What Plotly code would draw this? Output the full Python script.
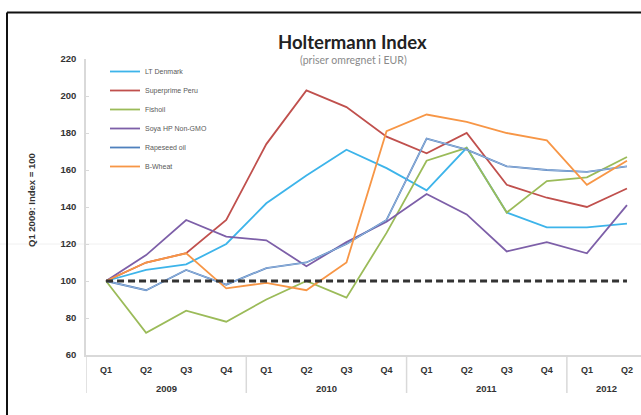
import plotly.graph_objects as go

quarters = ["Q1", "Q2", "Q3", "Q4", "Q1", "Q2", "Q3", "Q4", "Q1", "Q2", "Q3", "Q4", "Q1", "Q2"]
years = ["2009", "2010", "2011", "2012"]
year_sizes = [4, 4, 4, 2]

lt_denmark = [100, 106, 109, 120, 142, 157, 171, 161, 149, 172, 137, 129, 129, 131]
superprime_peru = [100, 110, 115, 133, 174, 203, 194, 178, 169, 180, 152, 145, 140, 150]
fishoil = [100, 72, 84, 78, 90, 100, 91, 126, 165, 172, 137, 154, 156, 167]
soya = [100, 114, 133, 124, 122, 108, 121, 132, 147, 136, 116, 121, 115, 141]
rapeseed = [100, 95, 106, 98, 107, 110, 120, 133, 177, 171, 162, 160, 159, 162]
b_wheat = [100, 110, 115, 96, 99, 95, 110, 181, 190, 186, 180, 176, 152, 165]
baseline = [100] * 14

series = [
    ("LT Denmark", lt_denmark, "#3DB4EA"),
    ("Superprime Peru", superprime_peru, "#C0504D"),
    ("Fishoil", fishoil, "#9BBB59"),
    ("Soya HP Non-GMO", soya, "#7D5FA8"),
    ("Rapeseed oil", rapeseed, "#4F81BD"),
    ("B-Wheat", b_wheat, "#F79646"),
]

x = list(range(len(quarters)))
fig = go.Figure()
for i, (name, vals, col) in enumerate(series):
    fig.add_trace(go.Scatter(x=x, y=vals, mode="lines", name=name,
                             line=dict(color=col, width=1.8),
                             legendgroup=f"g{i}"))
    if name == "Rapeseed oil":
        fig.add_trace(go.Scatter(x=x, y=vals, mode="lines", name=name,
                                 line=dict(color="#A9C0E4", width=0.8),
                                 showlegend=False, legendgroup=f"g{i}", hoverinfo="skip"))

fig.add_trace(go.Scatter(x=x, y=baseline, mode="lines", showlegend=False,
                         line=dict(color="#333333", width=3, dash="7px,4px")))

W, H = 641, 415
L, R, T, B = 86, 0, 59, 60
pw, ph = W - L - R, H - T - B

def px(xp):
    return (xp - L) / pw

def py(yp):
    return (H - B - yp) / ph

shapes = []
# outer frame
shapes.append(dict(type="line", xref="paper", yref="paper", x0=px(7), x1=px(645), y0=py(12.5), y1=py(12.5),
                   line=dict(color="#111111", width=2)))
shapes.append(dict(type="line", xref="paper", yref="paper", x0=px(7), x1=px(7), y0=py(12.5), y1=py(420),
                   line=dict(color="#111111", width=2)))
# faint line at 120
shapes.append(dict(type="line", xref="paper", yref="y", x0=px(0), x1=1, y0=120, y1=120,
                   line=dict(color="#f0f0f0", width=1), layer="below"))
# group dividers
pos = -0.5
bounds = [pos]
for s in year_sizes:
    pos += s
    bounds.append(pos)
for b in bounds[:-1]:
    shapes.append(dict(type="line", xref="x", yref="paper", x0=b, x1=b, y0=0, y1=py(393),
                       line=dict(color="#d9d9d9", width=1.5)))

annotations = []
start = 0
for yr, s in zip(years, year_sizes):
    annotations.append(dict(x=start + (s - 1) / 2, y=py(388), xref="x", yref="paper", text=yr,
                            xanchor="center", yanchor="middle", showarrow=False,
                            font=dict(size=9.5, color="#333333", family="Liberation Sans", weight="bold")))
    start += s
annotations.append(dict(x=px(352), y=py(42), xref="paper", yref="paper", text="Holtermann Index",
                        xanchor="center", yanchor="middle", showarrow=False,
                        font=dict(size=18.5, color="#222222", family="Lato", weight="bold")))
annotations.append(dict(x=px(353), y=py(60), xref="paper", yref="paper", text="(priser omregnet i EUR)",
                        xanchor="center", yanchor="middle", showarrow=False,
                        font=dict(size=10.5, color="#8a8a8a", family="Lato")))
annotations.append(dict(x=px(31), y=py(200), xref="paper", yref="paper", text="Q1 2009: Index = 100",
                        textangle=-90, xanchor="center", yanchor="middle", showarrow=False,
                        font=dict(size=9.5, color="#333333", family="Liberation Sans", weight="bold")))

fig.update_layout(
    width=W, height=H,
    margin=dict(l=L, r=R, t=T, b=B),
    paper_bgcolor="white", plot_bgcolor="white",
    shapes=shapes, annotations=annotations,
    legend=dict(x=px(105), y=py(57), xanchor="left", yanchor="top", bgcolor="rgba(0,0,0,0)",
                font=dict(size=7, color="#595959", family="Liberation Sans"),
                tracegroupgap=0, itemwidth=30),
    xaxis=dict(range=[-0.5, 13.35], tickmode="array", tickvals=x, ticktext=quarters,
               showgrid=False, zeroline=False, showline=True, linecolor="#d9d9d9", linewidth=1.5,
               ticks="", tickfont=dict(size=9, color="#333333", family="Liberation Sans", weight="bold"),
               ticklabelstandoff=5),
    yaxis=dict(range=[60, 220], tickvals=[60, 80, 100, 120, 140, 160, 180, 200, 220],
               showgrid=False, zeroline=False, showline=True, linecolor="#d9d9d9", linewidth=1.5,
               ticks="inside", ticklen=3, tickcolor="#d9d9d9",
               tickfont=dict(size=9.5, color="#333333", family="Liberation Sans", weight="bold"),
               ticklabelstandoff=6),
    showlegend=True,
)

fig.write_html("out.html", config={"displayModeBar": False},
               post_script="document.body.style.margin='0';document.body.style.overflow='hidden';")
